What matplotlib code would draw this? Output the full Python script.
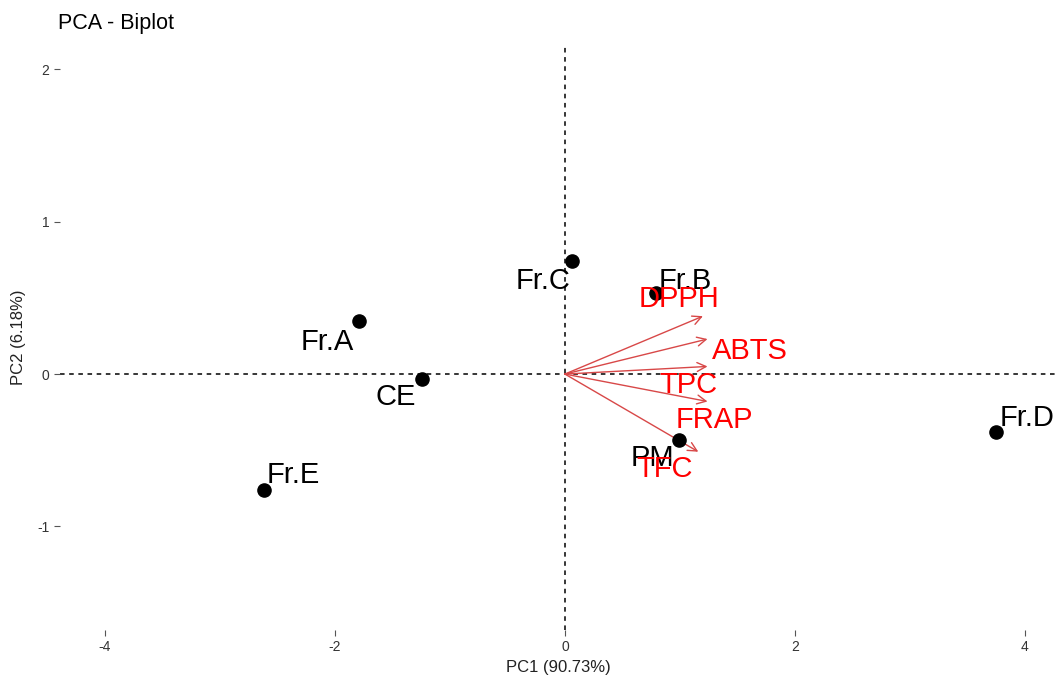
import matplotlib.pyplot as plt

plt.rcParams['font.family'] = ['Liberation Sans', 'DejaVu Sans']
plt.rcParams['axes.unicode_minus'] = False

# individuals (PCA scores)
ind_names = ["Fr.A", "Fr.B", "Fr.C", "Fr.D", "Fr.E", "CE", "PM"]
ind_x = [-1.79, 0.79, 0.06, 3.75, -2.62, -1.24, 0.99]
ind_y = [0.35, 0.53, 0.74, -0.38, -0.76, -0.03, -0.43]
# repelled label positions
ind_lab_x = [-2.07, 1.05, -0.19, 4.02, -2.36, -1.47, 0.76]
ind_lab_y = [0.21, 0.61, 0.61, -0.29, -0.66, -0.15, -0.55]

# variables (loadings)
var_names = ["DPPH", "ABTS", "TPC", "FRAP", "TFC"]
var_x = [1.20, 1.24, 1.24, 1.24, 1.16]
var_y = [0.38, 0.23, 0.05, -0.18, -0.51]
var_lab_x = [0.99, 1.61, 1.07, 1.30, 0.87]
var_lab_y = [0.49, 0.15, -0.07, -0.30, -0.62]

fig = plt.figure(figsize=(10.56, 6.75), dpi=100)
ax = fig.add_axes([60 / 1056, 1 - 630 / 675, 1 - 60 / 1056, (630 - 45) / 675])

ax.axhline(0, color="black", linestyle=(0, (3, 3)), linewidth=1.1, zorder=1)
ax.axvline(0, color="black", linestyle=(0, (3, 3)), linewidth=1.1, zorder=1)

ax.scatter(ind_x, ind_y, s=90, color="black", zorder=3)
for name, lx, ly in zip(ind_names, ind_lab_x, ind_lab_y):
    ax.text(lx, ly, name, fontsize=21, color="black", ha="center", va="center", zorder=4)

for vx, vy in zip(var_x, var_y):
    ax.annotate("", xy=(vx, vy), xytext=(0, 0),
                arrowprops=dict(arrowstyle="->", color="#D84848", lw=1.0,
                                mutation_scale=16, shrinkA=0, shrinkB=0),
                zorder=2)
for name, lx, ly in zip(var_names, var_lab_x, var_lab_y):
    ax.text(lx, ly, name, fontsize=21, color="red", ha="center", va="center", zorder=5)

ax.set_xlim(-4.39, 4.27)
ax.set_ylim(-1.68, 2.16)
ax.set_xticks([-4, -2, 0, 2, 4])
ax.set_yticks([-1, 0, 1, 2])
for s in ax.spines.values():
    s.set_visible(False)
ax.tick_params(colors="#333333", labelsize=10, length=4, width=0.8)
ax.tick_params(axis="both", color="#555555")

ax.set_xlabel("PC1 (90.73%)", fontsize=12, color="#222222", labelpad=4)
ax.set_ylabel("PC2 (6.18%)", fontsize=12, color="#222222", labelpad=8)
fig.text(58 / 1056, 1 - 24 / 675, "PCA - Biplot", fontsize=15.5, va="center", ha="left")

fig.savefig("out.png", dpi=100)
